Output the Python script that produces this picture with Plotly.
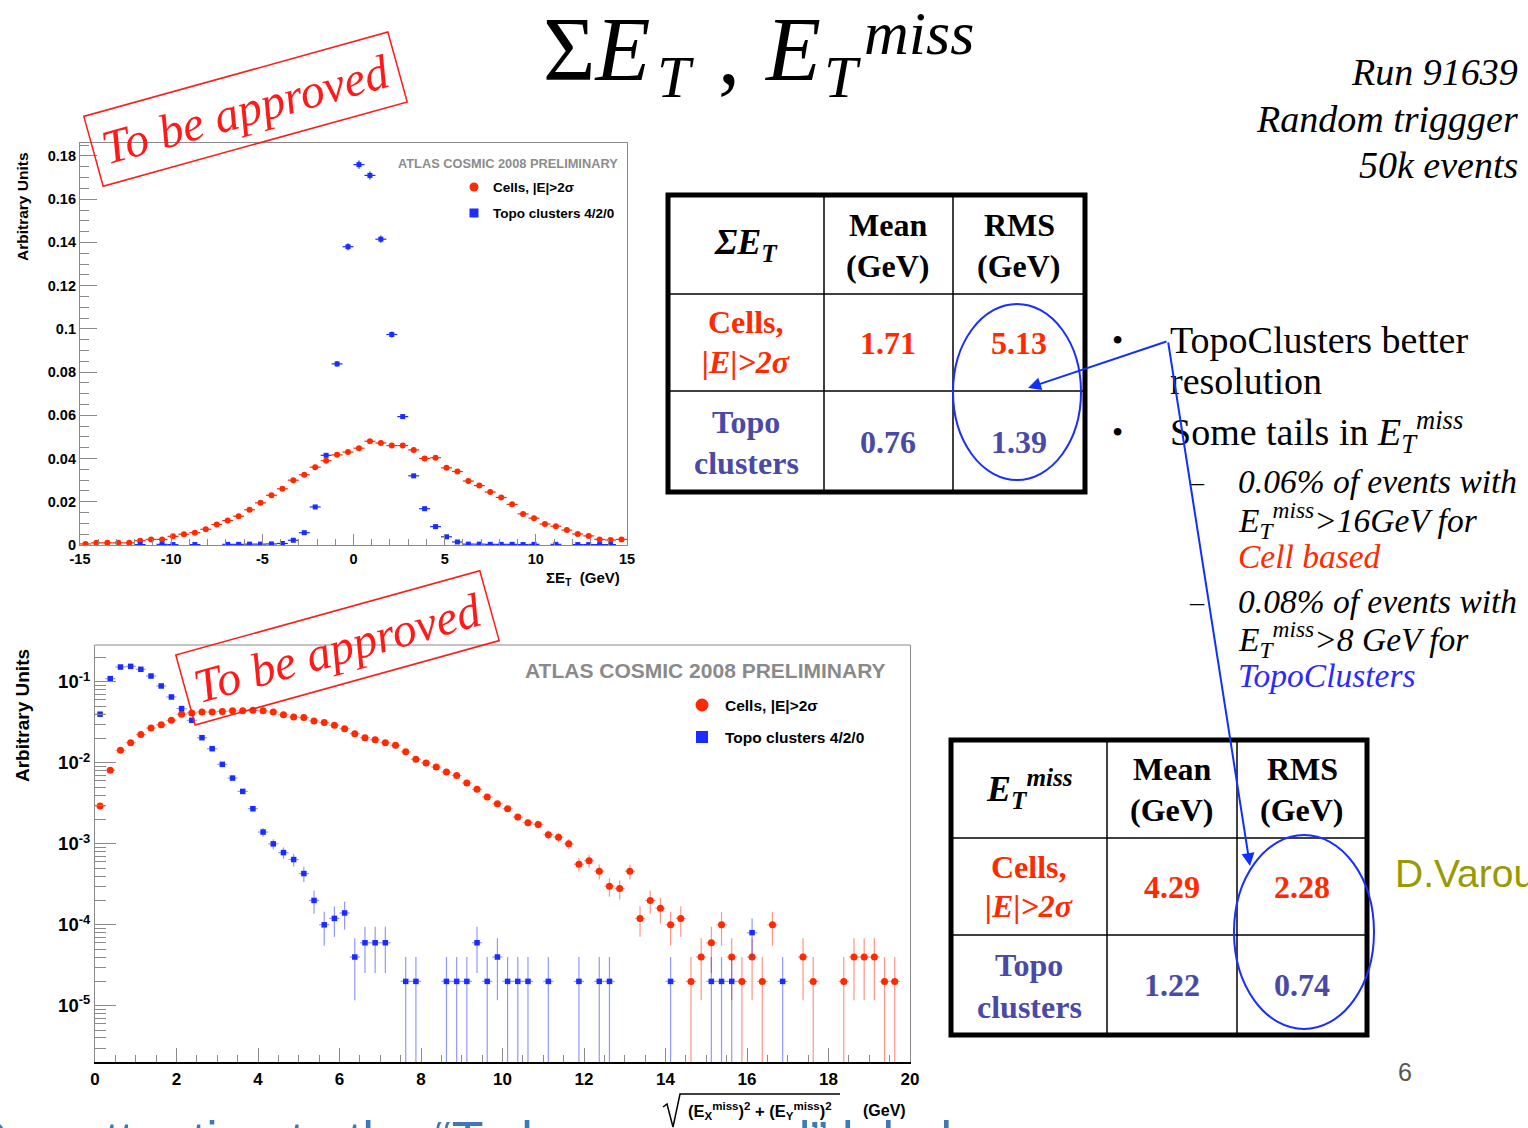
import numpy as np
import plotly.graph_objects as go

W, H = 1528, 1128
SERIF = "Liberation Serif"
SANS = "Liberation Sans"
RED = "#ff2a00"
BLUE = "#1a2cff"
TABLE_BLUE = "#4a4aa6"
N_EVENTS = 50000  # random-trigger sample size used for the statistical errors

# ---- Sum E_T, 50 bins of 0.6 GeV between -15 and 15 GeV ----
sumet_edges = np.linspace(-15, 15, 51)
sumet_centers = 0.5 * (sumet_edges[:-1] + sumet_edges[1:])
sumet_cells = [0.0005, 0.0010, 0.0010, 0.0010, 0.0010, 0.0020, 0.0026, 0.0026, 0.0040, 0.0050,
               0.0057, 0.0073, 0.0095, 0.0113, 0.0133, 0.0163, 0.0195, 0.0230, 0.0260, 0.0300,
               0.0325, 0.0360, 0.0390, 0.0417, 0.0430, 0.0448, 0.0480, 0.0472, 0.0460, 0.0460,
               0.0440, 0.0400, 0.0404, 0.0357, 0.0340, 0.0296, 0.0275, 0.0245, 0.0220, 0.0188,
               0.0144, 0.0124, 0.0097, 0.0087, 0.0069, 0.0051, 0.0042, 0.0026, 0.0023, 0.0026]
sumet_topo = [None, None, None, None, None, 0.0002, None, 0.0003, 0.0002, None,
              0.0002, None, None, 0.0003, 0.0003, 0.0004, 0.0004, 0.0005, 0.0007, 0.0022,
              0.0057, 0.0176, 0.0415, 0.0838, 0.1380, 0.1760, 0.1710, 0.1415, 0.0974, 0.0594,
              0.0320, 0.0168, 0.0085, 0.0038, 0.0014, 0.0004, 0.0004, 0.0003, 0.0003, 0.0003,
              0.0002, 0.0003, None, 0.0003, None, 0.0002, 0.0002, 0.0002, 0.0002, None]

# ---- Missing E_T, 80 bins of 0.25 GeV between 0 and 20 GeV ----
met_edges = np.linspace(0, 20, 81)
met_centers = 0.5 * (met_edges[:-1] + met_edges[1:])
met_cells = [0.00293, 0.0081, 0.0143, 0.0178, 0.0224, 0.0270, 0.0297, 0.0336, 0.0400, 0.0414,
             0.0426, 0.0426, 0.0433, 0.0440, 0.0440, 0.0446, 0.0440, 0.0426, 0.0395, 0.0369,
             0.0363, 0.0330, 0.0315, 0.0292, 0.0265, 0.0230, 0.0205, 0.0194, 0.0178, 0.0165,
             0.0137, 0.0111, 0.0100, 0.0089, 0.0077, 0.0070, 0.00565, 0.00472, 0.0038, 0.00314,
             0.00272, 0.00214, 0.00183, 0.00174, 0.0013, 0.00121, 0.0010, 0.00056, 0.00062, 0.00046,
             0.0003, 0.00028, 0.00046, 0.00012, 0.0002, 0.00016, 0.0001, 0.00012, 0.00002, 0.00004,
             0.00006, 0.0001, 0.00004, 0.00002, 0.00004, 0.00002, 0.0001, None, None, 0.00004,
             0.00002, None, None, 0.00002, 0.00004, 0.00004, 0.00004, 0.00002, 0.00002, None]
met_topo = [0.040, 0.110, 0.153, 0.156, 0.1435, 0.1185, 0.0893, 0.0653, 0.0469, 0.0336,
            0.0205, 0.0150, 0.0096, 0.0065, 0.00445, 0.00272, 0.0014, 0.0010, 0.00078, 0.00064,
            0.00043, 0.0002, 0.0001, 0.00012, 0.00014, 0.00004, 0.00006, 0.00006, 0.00006, None,
            0.00002, 0.00002, None, None, 0.00002, 0.00002, 0.00002, 0.00006, 0.00002, 0.00004,
            0.00002, 0.00002, 0.00002, None, 0.00002, None, None, 0.00002, None, 0.00002,
            0.00002, None, None, None, None, None, 0.00002, None, None, None,
            0.00002, 0.00002, 0.00002, None, 0.00008, None, None, 0.00002, None, None,
            None, None, None, None, None, None, None, None, None, None]

# table contents
sumet_table = {"Cells": ("1.71", "5.13"), "Topo": ("0.76", "1.39")}
met_table = {"Cells": ("4.29", "2.28"), "Topo": ("1.22", "0.74")}

sumet_ticks = [-15, -10, -5, 0, 5, 10, 15]
sumet_yticks = [0, 0.02, 0.04, 0.06, 0.08, 0.1, 0.12, 0.14, 0.16, 0.18]
met_ticks = [0, 2, 4, 6, 8, 10, 12, 14, 16, 18, 20]
met_yticks = [1e-5, 1e-4, 1e-3, 1e-2, 1e-1]


def X(px):
    return px / W


def Y(py):
    return 1 - py / H


def points(xs, ys):
    keep = [(x, y) for x, y in zip(xs, ys) if y is not None]
    return [k[0] for k in keep], [k[1] for k in keep]


def stat_errors(ys):
    up, down = [], []
    for v in ys:
        e = np.sqrt(v / N_EVENTS)
        up.append(e)
        down.append(min(e, v - 1e-8))
    return up, down


fig = go.Figure()


def add_series(xs, ys, half_width, color, bar_color, symbol, size, xa, ya):
    px_, py_ = points(xs, ys)
    up, down = stat_errors(py_)
    fig.add_trace(go.Scatter(
        x=px_, y=py_, mode="markers", xaxis=xa, yaxis=ya, showlegend=False,
        marker=dict(symbol=symbol, size=size, color=color, line=dict(width=0)),
        error_x=dict(type="constant", value=half_width, thickness=1.2, width=0, color=bar_color),
        error_y=dict(type="data", array=up, arrayminus=down, thickness=1.2, width=0, color=bar_color),
        cliponaxis=True,
    ))


add_series(sumet_centers, sumet_cells, 0.3, RED, RED, "circle", 6, "x", "y")
add_series(sumet_centers, sumet_topo, 0.3, BLUE, BLUE, "square", 5, "x", "y")
add_series(met_centers, met_cells, 0.125, RED, "rgba(255,60,40,0.55)", "circle", 7, "x2", "y2")
add_series(met_centers, met_topo, 0.125, BLUE, "rgba(40,50,255,0.5)", "square", 5.5, "x2", "y2")

GRAY = "#8a8a8a"

fig.update_layout(
    width=W, height=H, autosize=False,
    margin=dict(l=0, r=0, t=0, b=0, pad=0, autoexpand=False),
    paper_bgcolor="white", plot_bgcolor="white",
    showlegend=False,
    xaxis=dict(
        domain=[X(80), X(627)], anchor="y", range=[-15, 15], automargin=False,
        tickmode="array", tickvals=sumet_ticks, ticktext=[f"<b>{t}</b>" for t in sumet_ticks],
        ticks="inside", ticklen=11, tickcolor=GRAY, tickfont=dict(family=SANS, size=14.5, color="black"),
        minor=dict(tickmode="linear", tick0=-15, dtick=1, ticks="inside", ticklen=6, tickcolor=GRAY, showgrid=False),
        showline=True, linecolor=GRAY, linewidth=1.2, mirror=True,
        showgrid=False, zeroline=False,
    ),
    yaxis=dict(
        domain=[Y(545), Y(143)], anchor="x", range=[0, 0.186], automargin=False,
        tickmode="array", tickvals=sumet_yticks,
        ticktext=[f"<b>{'0' if t == 0 else ('%g' % t)}</b>" for t in sumet_yticks],
        ticks="inside", ticklen=17, tickcolor=GRAY, tickfont=dict(family=SANS, size=14.5, color="black"),
        minor=dict(tickmode="linear", tick0=0, dtick=0.005, ticks="inside", ticklen=9, tickcolor=GRAY, showgrid=False),
        showline=True, linecolor=GRAY, linewidth=1.2, mirror=True,
        showgrid=False, zeroline=False,
    ),
    xaxis2=dict(
        domain=[X(95), X(910)], anchor="y2", range=[0, 20], automargin=False,
        tickmode="array", tickvals=met_ticks, ticktext=[f"<b>{t}</b>" for t in met_ticks],
        ticks="inside", ticklen=14, tickcolor=GRAY, tickfont=dict(family=SANS, size=17, color="black"),
        minor=dict(tickmode="linear", tick0=0, dtick=0.5, ticks="inside", ticklen=7, tickcolor=GRAY, showgrid=False),
        showline=True, linecolor="black", linewidth=2.2, mirror=False,
        showgrid=False, zeroline=False,
    ),
    yaxis2=dict(
        domain=[Y(1062), Y(645)], anchor="x2", type="log", range=[-5.695, -0.543], automargin=False,
        tickmode="array", tickvals=met_yticks,
        ticktext=[f"<b>10<sup>{int(np.log10(t))}</sup></b>" for t in met_yticks],
        ticks="inside", ticklen=21, tickcolor=GRAY, tickfont=dict(family=SANS, size=18.5, color="black"),
        minor=dict(tickmode="array", tickvals=[k * 10.0 ** d for d in range(-6, 0) for k in range(2, 10)],
                   ticks="inside", ticklen=11, tickcolor=GRAY, showgrid=False),
        showline=True, linecolor=GRAY, linewidth=1.2, mirror=True,
        showgrid=False, zeroline=False,
    ),
)

annotations = []
shapes = []


def note(x, y, s, size, color="black", family=SERIF, xa="center", ya="middle", angle=0, **kw):
    d = dict(x=X(x), y=Y(y), xref="paper", yref="paper", text=s, showarrow=False,
             font=dict(family=family, size=size, color=color), xanchor=xa, yanchor=ya, textangle=angle)
    d.update(kw)
    annotations.append(d)


def line(x0, y0, x1, y1, color="black", width=1.5):
    shapes.append(dict(type="line", xref="paper", yref="paper", x0=X(x0), y0=Y(y0), x1=X(x1), y1=Y(y1),
                       line=dict(color=color, width=width)))


def ellipse(cx, cy, rx, ry, color=BLUE, width=2):
    shapes.append(dict(type="circle", xref="paper", yref="paper", x0=X(cx - rx), x1=X(cx + rx),
                       y0=Y(cy + ry), y1=Y(cy - ry), line=dict(color=color, width=width)))


def arrow(x_head, y_head, x_tail, y_tail):
    annotations.append(dict(x=X(x_head), y=Y(y_head), xref="paper", yref="paper", text="",
                            showarrow=True, ax=x_tail - x_head, ay=y_tail - y_head,
                            axref="pixel", ayref="pixel", arrowhead=2, arrowsize=1.3,
                            arrowwidth=2, arrowcolor="#1030ff", standoff=0))


# ---- slide title (pieces placed individually for large sub/superscripts) ----
note(541, 49, "Σ<i>E</i>", 90, xa="left")
note(655, 77, "<i>T</i>", 60, xa="left")
note(716, 53, ",", 88, xa="left")
note(762, 49, "<i>E</i>", 90, xa="left")
note(822, 77, "<i>T</i>", 60, xa="left")
note(862, 33, "<i>miss</i>", 62, xa="left")

note(1520, 72, "<i>Run 91639</i>", 38, xa="right")
note(1520, 119, "<i>Random triggger</i>", 38, xa="right")
note(1520, 165, "<i>50k events</i>", 38, xa="right")

# ---- top panel decorations ----
note(22, 207, "<b>Arbitrary Units</b>", 15.5, family=SANS, angle=-90)
note(583, 578, "<b>ΣE<sub>T</sub>  (GeV)</b>", 15, family=SANS)
note(508, 164, "<b>ATLAS COSMIC 2008 PRELIMINARY</b>", 12.8, color="#8c8c8c", family=SANS)
shapes.append(dict(type="circle", xref="paper", yref="paper", x0=X(469.5), x1=X(478.5), y0=Y(191.5), y1=Y(182.5),
                   fillcolor=RED, line=dict(width=0)))
shapes.append(dict(type="rect", xref="paper", yref="paper", x0=X(469.5), x1=X(478.5), y0=Y(217.5), y1=Y(208.5),
                   fillcolor=BLUE, line=dict(width=0)))
note(491, 188, "<b>Cells, |E|&gt;2σ</b>", 13.5, family=SANS, xa="left")
note(491, 214, "<b>Topo clusters 4/2/0</b>", 13.5, family=SANS, xa="left")

# ---- bottom panel decorations ----
line(95, 645, 910, 645, GRAY, 1.2)
note(22, 716, "<b>Arbitrary Units</b>", 19, family=SANS, angle=-90)
note(705, 670, "<b>ATLAS COSMIC 2008 PRELIMINARY</b>", 21, color="#8a8a8a", family=SANS)
shapes.append(dict(type="circle", xref="paper", yref="paper", x0=X(695.5), x1=X(708.5), y0=Y(711.5), y1=Y(698.5),
                   fillcolor=RED, line=dict(width=0)))
shapes.append(dict(type="rect", xref="paper", yref="paper", x0=X(696), x1=X(708), y0=Y(743), y1=Y(731),
                   fillcolor=BLUE, line=dict(width=0)))
note(723, 705, "<b>Cells, |E|&gt;2σ</b>", 15.5, family=SANS, xa="left")
note(723, 737, "<b>Topo clusters 4/2/0</b>", 15.5, family=SANS, xa="left")

# ---- footer banner (mostly below the page edge) ----
note(-30, 1109, "Pay attention to the “To be approved” labels", 52, color="#3d7ab5", family=SANS,
     xa="left", ya="top")

# x title: sqrt((Ex^miss)^2 + (Ey^miss)^2) (GeV)
shapes.append(dict(type="path", xref="paper", yref="paper",
                   path=f"M {X(663)} {Y(1107)} L {X(667)} {Y(1104)} L {X(673)} {Y(1127)} L {X(680)} {Y(1094)} L {X(840)} {Y(1094)}",
                   line=dict(color="black", width=1.5)))
note(760, 1111, "<b>(E<sub>X</sub><sup>miss</sup>)<sup>2</sup> + (E<sub>Y</sub><sup>miss</sup>)<sup>2</sup></b>", 16.5,
     family=SANS)
note(884, 1110, "<b>(GeV)</b>", 16, family=SANS)

# ---- "To be approved" stamps ----
for cx, cy in [(246, 109), (337, 648)]:
    annotations.append(dict(x=X(cx), y=Y(cy), xref="paper", yref="paper", text="<i>To be approved</i>",
                            showarrow=False, textangle=-15.5, font=dict(family=SERIF, size=48, color="#ff1a1a"),
                            bordercolor="#ff1a1a", borderwidth=1.5, borderpad=9,
                            xanchor="center", yanchor="middle"))


# ---- result tables ----
def table(x0, y0, x1, y1, cols, rows, header, values):
    shapes.append(dict(type="rect", xref="paper", yref="paper", x0=X(x0), x1=X(x1), y0=Y(y1), y1=Y(y0),
                       line=dict(color="black", width=5)))
    for c in cols:
        line(c, y0, c, y1, "black", 1.5)
    for r in rows:
        line(x0, r, x1, r, "black", 1.5)
    c_lab = 0.5 * (x0 + cols[0])
    c_mean = 0.5 * (cols[0] + cols[1])
    c_rms = 0.5 * (cols[1] + x1)
    h_mid = 0.5 * (y0 + rows[0])
    r1 = 0.5 * (rows[0] + rows[1])
    r2 = 0.5 * (rows[1] + y1)
    note(c_lab, h_mid, header, 36)
    for cx in (c_mean, c_rms):
        note(cx, h_mid - 20, "<b>" + ("Mean" if cx == c_mean else "RMS") + "</b>", 32)
        note(cx, h_mid + 21, "<b>(GeV)</b>", 32)
    note(c_lab, r1 - 20, "<b>Cells,</b>", 32, color=RED)
    note(c_lab, r1 + 19, "<b><i>|E|&gt;2σ</i></b>", 32, color=RED)
    note(c_mean, r1, f"<b>{values['Cells'][0]}</b>", 32, color=RED)
    note(c_rms, r1, f"<b>{values['Cells'][1]}</b>", 32, color=RED)
    note(c_lab, r2 - 20, "<b>Topo</b>", 32, color=TABLE_BLUE)
    note(c_lab, r2 + 22, "<b>clusters</b>", 32, color=TABLE_BLUE)
    note(c_mean, r2, f"<b>{values['Topo'][0]}</b>", 32, color=TABLE_BLUE)
    note(c_rms, r2, f"<b>{values['Topo'][1]}</b>", 32, color=TABLE_BLUE)


table(668, 195, 1085, 492, [824, 953], [294, 391], "<b><i>ΣE<sub>T</sub></i></b>", sumet_table)
table(951, 740, 1367, 1035, [1107, 1237], [838, 935], "<b><i>E<sub>T</sub><sup>miss</sup></i></b>", met_table)

ellipse(1017, 392, 64, 88)
ellipse(1304, 932, 70, 97)

# ---- bullet text ----
note(1117, 340, "•", 32, xa="center")
note(1117, 432, "•", 32, xa="center")
note(1168, 340, "TopoClusters better", 38, xa="left")
note(1168, 381, "resolution", 38, xa="left")
note(1168, 432, "Some tails in <i>E<sub>T</sub><sup>miss</sup></i>", 38, xa="left")
note(1197, 482, "–", 28)
note(1197, 601, "–", 28)
note(1236, 482, "<i>0.06% of events with</i>", 33.5, xa="left")
note(1236, 520, "<i>E<sub>T</sub><sup>miss</sup>&gt;16GeV for</i>", 33.5, xa="left")
note(1236, 556, "<i>Cell based</i>", 33.5, color=RED, xa="left")
note(1236, 601, "<i>0.08% of events with</i>", 33.5, xa="left")
note(1236, 639, "<i>E<sub>T</sub><sup>miss</sup>&gt;8 GeV for</i>", 33.5, xa="left")
note(1236, 675, "<i>TopoClusters</i>", 33.5, color="#2a2aff", xa="left")

# arrows linking the statement to the RMS columns
arrow(1028, 388, 1168, 341)
arrow(1250, 866, 1168, 341)

# ---- footer items ----
note(1393, 873, "D.Varouchas", 39, color="#999900", family=SANS, xa="left")
note(1405, 1072, "6", 25, color="#555555", family=SANS)

fig.update_layout(annotations=annotations, shapes=shapes)
fig.write_html("out.html")
